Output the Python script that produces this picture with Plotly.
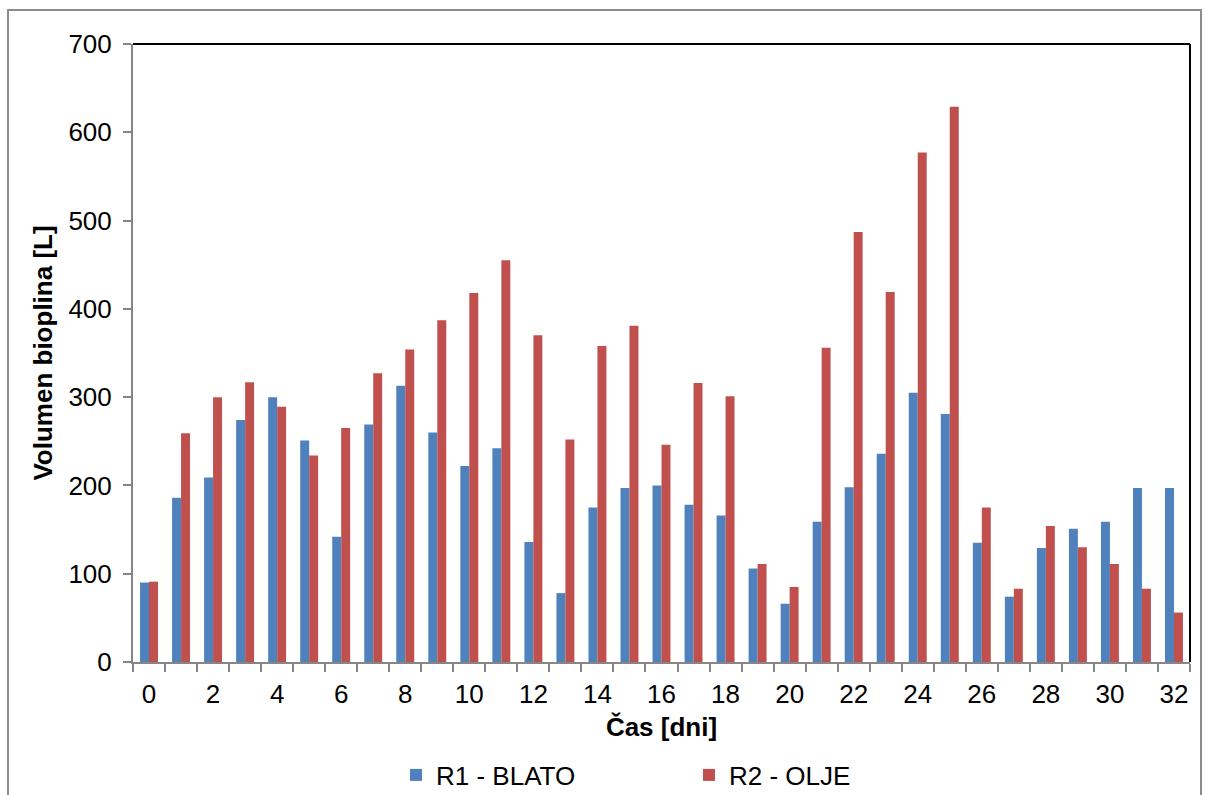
import plotly.graph_objects as go

# Daily biogas volume per reactor
days = list(range(33))
r1_blato = [90, 186, 209, 274, 300, 251, 142, 269, 313, 260, 222,
            242, 136, 78, 175, 197, 200, 178, 166, 106, 66, 159,
            198, 236, 305, 281, 135, 74, 129, 151, 159, 197, 197]
r2_olje = [91, 259, 300, 317, 289, 234, 265, 327, 354, 387, 418,
           455, 370, 252, 358, 381, 246, 316, 301, 111, 85, 356,
           487, 419, 577, 629, 175, 83, 154, 130, 111, 83, 56]
x_ticks = list(range(0, 33, 2))
y_ticks = list(range(0, 701, 100))

FONT = "Liberation Sans, Arial, sans-serif"
BLUE = "#4F81BD"
RED = "#C0504D"
AXIS_GREY = "#868686"

W, H = 1206, 795
ML, MR, MT, MB = 133, 16, 44, 133
PW, PH = W - ML - MR, H - MT - MB

fig = go.Figure()
fig.add_trace(go.Bar(x=days, y=r1_blato, name="R1 - BLATO",
                     marker=dict(color=BLUE, line=dict(width=0))))
fig.add_trace(go.Bar(x=days, y=r2_olje, name="R2 - OLJE",
                     marker=dict(color=RED, line=dict(width=0))))

fig.update_layout(
    width=W, height=H,
    margin=dict(l=ML, r=MR, t=MT, b=MB, autoexpand=False),
    paper_bgcolor="white", plot_bgcolor="white",
    font=dict(family=FONT, size=26, color="black"),
    barmode="group", bargap=0.44, bargroupgap=0,
    showlegend=True,
    legend=dict(orientation="h", x=(396 - ML) / PW, xanchor="left",
                y=-113 / PH, yanchor="middle",
                entrywidth=248, entrywidthmode="pixels",
                font=dict(size=26), itemsizing="constant",
                bgcolor="rgba(0,0,0,0)"),
    xaxis=dict(
        range=[-0.5, 32.5], tickmode="array", tickvals=x_ticks,
        ticktext=[str(v) for v in x_ticks], ticks="",
        showline=True, linecolor=AXIS_GREY, linewidth=2,
        showgrid=False, zeroline=False, automargin=False,
        ticklabelstandoff=8,
        minor=dict(tickmode="linear", tick0=-0.5, dtick=1,
                   ticks="outside", ticklen=8, tickcolor=AXIS_GREY,
                   tickwidth=2, showgrid=False),
        title=dict(text="<b>Čas [dni]</b>", standoff=10,
                   font=dict(size=26)),
    ),
    yaxis=dict(
        range=[0, 700], tickmode="array", tickvals=y_ticks,
        ticks="outside", ticklen=8, tickcolor=AXIS_GREY, tickwidth=2,
        showline=True, linecolor=AXIS_GREY, linewidth=2,
        showgrid=False, zeroline=False, automargin=False,
        ticklabelstandoff=6,
        title=dict(text="<b>Volumen bioplina [L]</b>", standoff=8,
                   font=dict(size=26)),
    ),
    shapes=[
        # top and right edges of the plot frame
        dict(type="line", xref="paper", yref="paper", x0=0, x1=1, y0=1, y1=1,
             line=dict(color="black", width=2)),
        dict(type="line", xref="paper", yref="paper", x0=1, x1=1, y0=0, y1=1,
             line=dict(color="black", width=2)),
        # outer chart border
        dict(type="rect", xref="paper", yref="paper",
             x0=(8 - ML) / PW, x1=(1201 - ML) / PW,
             y0=(H - MB - 800) / PH, y1=(H - MB - 10) / PH,
             line=dict(color="#8C8C8C", width=2), layer="below"),
    ],
)

fig.write_html("out.html")
